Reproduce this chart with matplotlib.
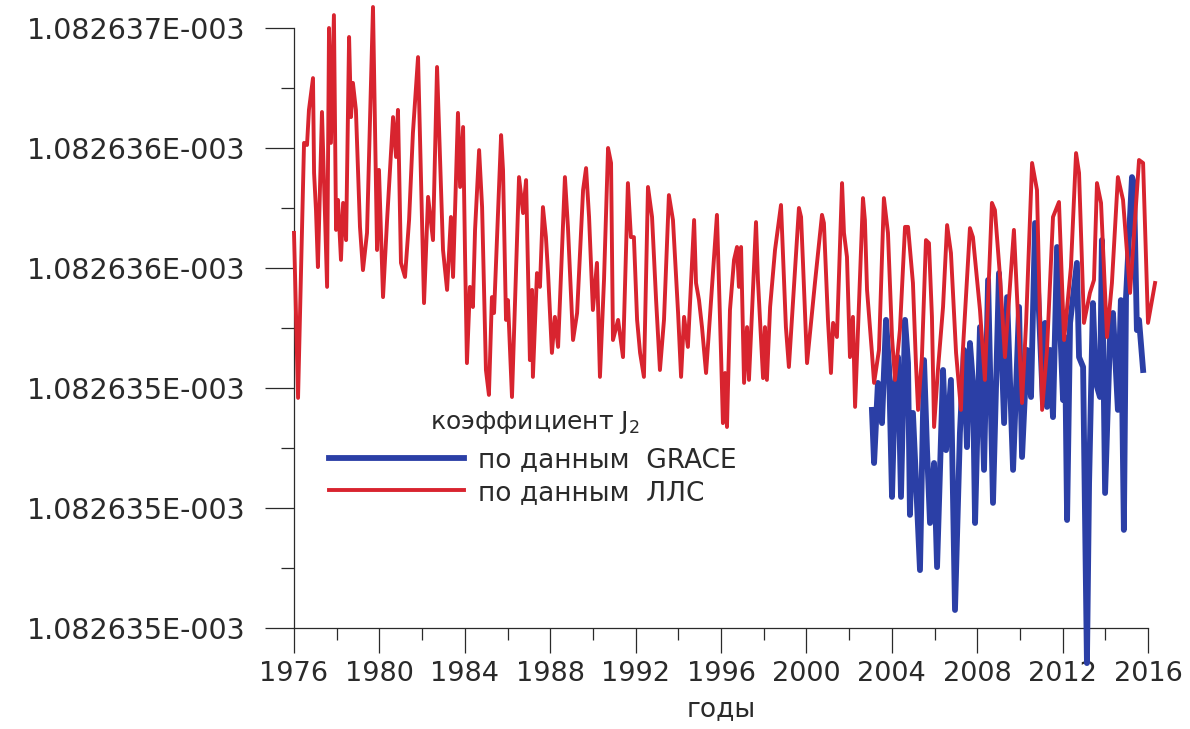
import math
import matplotlib
matplotlib.use("Agg")
import matplotlib.pyplot as plt
from matplotlib.ticker import MultipleLocator, FuncFormatter

# ---- data: J2 expressed as deviation from J2_BASE in units of 1e-10 ----
J2_BASE = 1.0826346e-3
UNIT = 1e-10

llr_years = [
    1976.00, 1976.19, 1976.47, 1976.61, 1976.70, 1976.89, 1976.94, 1977.03, 1977.12, 1977.31,
    1977.55, 1977.64, 1977.73, 1977.87, 1977.97, 1978.06, 1978.20, 1978.30, 1978.44, 1978.58,
    1978.67, 1978.76, 1978.90, 1979.09, 1979.23, 1979.42, 1979.70, 1979.89, 1979.98, 1980.17,
    1980.36, 1980.64, 1980.78, 1980.87, 1981.01, 1981.20, 1981.39, 1981.57, 1981.81, 1982.09,
    1982.28, 1982.51, 1982.70, 1982.98, 1983.17, 1983.35, 1983.45, 1983.68, 1983.78, 1983.92,
    1984.01, 1984.10, 1984.24, 1984.38, 1984.48, 1984.67, 1984.81, 1984.99, 1985.13, 1985.27,
    1985.37, 1985.70, 1985.79, 1985.93, 1986.02, 1986.21, 1986.54, 1986.73, 1986.87, 1987.05,
    1987.15, 1987.19, 1987.38, 1987.52, 1987.66, 1987.80, 1987.90, 1988.08, 1988.22, 1988.37,
    1988.69, 1988.83, 1989.07, 1989.26, 1989.54, 1989.68, 1989.82, 1990.00, 1990.19, 1990.33,
    1990.52, 1990.71, 1990.85, 1990.94, 1991.18, 1991.41, 1991.64, 1991.78, 1991.92, 1992.07,
    1992.21, 1992.39, 1992.58, 1992.77, 1992.96, 1993.14, 1993.33, 1993.56, 1993.75, 1993.99,
    1994.13, 1994.27, 1994.45, 1994.74, 1994.83, 1994.97, 1995.11, 1995.30, 1995.81, 1996.00,
    1996.09, 1996.19, 1996.28, 1996.42, 1996.61, 1996.75, 1996.84, 1996.94, 1997.08, 1997.22,
    1997.31, 1997.64, 1997.73, 1997.97, 1998.06, 1998.15, 1998.30, 1998.53, 1998.81, 1999.04,
    1999.18, 1999.65, 1999.75, 1999.84, 2000.03, 2000.40, 2000.73, 2000.82, 2001.01, 2001.15,
    2001.25, 2001.43, 2001.67, 2001.76, 2001.90, 2002.04, 2002.18, 2002.28, 2002.65, 2002.74,
    2002.84, 2003.07, 2003.17, 2003.40, 2003.63, 2003.82, 2004.01, 2004.15, 2004.38, 2004.62,
    2004.76, 2004.99, 2005.13, 2005.23, 2005.41, 2005.60, 2005.74, 2005.88, 2005.98, 2006.16,
    2006.40, 2006.59, 2006.77, 2007.01, 2007.24, 2007.33, 2007.66, 2007.80, 2008.13, 2008.36,
    2008.69, 2008.83, 2009.07, 2009.30, 2009.72, 2010.10, 2010.29, 2010.57, 2010.80, 2011.04,
    2011.27, 2011.55, 2011.83, 2012.07, 2012.39, 2012.63, 2012.77, 2013.00, 2013.28, 2013.47,
    2013.61, 2013.80, 2014.08, 2014.31, 2014.59, 2014.83, 2015.16, 2015.58, 2015.77, 2016.00,
    2016.33,
]
llr_dJ2 = [
    13.17, 7.67, 16.17, 16.10, 17.27, 18.33, 15.17, 13.93, 12.03, 17.20,
    11.37, 20.00, 16.17, 20.43, 13.27, 14.27, 12.27, 14.17, 12.93, 19.70,
    17.03, 18.17, 17.27, 13.37, 11.93, 13.17, 20.70, 12.60, 15.27, 11.03,
    13.60, 17.03, 15.70, 17.27, 12.17, 11.70, 13.60, 16.50, 19.03, 10.83,
    14.37, 12.93, 18.70, 12.60, 11.27, 13.70, 11.70, 17.17, 14.70, 16.70,
    12.50, 8.83, 11.37, 10.70, 13.27, 15.93, 14.03, 8.60, 7.77, 11.03,
    10.50, 16.43, 15.27, 10.27, 10.93, 7.70, 15.03, 13.83, 14.93, 8.93,
    11.27, 8.37, 11.83, 11.37, 14.03, 13.03, 11.83, 9.17, 10.37, 9.37,
    15.03, 13.37, 9.60, 10.50, 14.60, 15.33, 13.70, 10.60, 12.17, 8.37,
    11.60, 16.00, 15.50, 9.60, 10.27, 9.03, 14.83, 13.03, 13.03, 10.27,
    9.17, 8.37, 14.70, 13.70, 10.93, 8.60, 10.27, 14.43, 13.60, 10.50,
    8.37, 10.37, 9.37, 13.60, 11.50, 10.93, 10.03, 8.50, 13.77, 9.17,
    6.83, 8.50, 6.70, 10.60, 12.27, 12.70, 11.37, 12.70, 8.17, 10.03,
    8.27, 13.53, 11.60, 8.33, 10.03, 8.27, 10.70, 12.60, 14.10, 10.03,
    8.70, 14.00, 13.70, 12.17, 8.83, 11.50, 13.77, 13.50, 10.27, 8.50,
    10.17, 9.70, 14.83, 13.17, 12.37, 9.03, 10.37, 7.37, 14.33, 13.60,
    11.27, 9.17, 8.17, 9.27, 14.33, 13.17, 9.70, 8.27, 9.93, 13.37,
    13.37, 11.50, 8.83, 7.27, 9.03, 12.93, 12.83, 10.37, 6.70, 8.60,
    10.70, 13.43, 12.50, 9.17, 7.27, 9.27, 13.33, 13.03, 10.60, 8.27,
    14.17, 13.93, 11.70, 9.03, 13.27, 7.50, 10.17, 15.50, 14.60, 7.27,
    9.27, 13.70, 14.20, 9.60, 12.03, 15.83, 15.17, 10.17, 11.17, 11.60,
    14.83, 14.17, 9.70, 11.50, 15.03, 14.27, 11.17, 15.60, 15.50, 10.17,
    11.50,
]

grace_years = [
    2003.07, 2003.17, 2003.35, 2003.54, 2003.73, 2003.87, 2004.01, 2004.15, 2004.29, 2004.43,
    2004.62, 2004.76, 2004.85, 2004.99, 2005.32, 2005.51, 2005.65, 2005.79, 2005.98, 2006.12,
    2006.40, 2006.54, 2006.77, 2006.96, 2007.19, 2007.38, 2007.52, 2007.66, 2007.80, 2007.90,
    2008.13, 2008.32, 2008.51, 2008.74, 2009.02, 2009.26, 2009.40, 2009.68, 2009.96, 2010.10,
    2010.33, 2010.52, 2010.71, 2011.08, 2011.18, 2011.27, 2011.41, 2011.55, 2011.74, 2012.02,
    2012.11, 2012.21, 2012.35, 2012.67, 2012.77, 2012.96, 2013.14, 2013.24, 2013.42, 2013.56,
    2013.75, 2013.84, 2013.99, 2014.22, 2014.36, 2014.59, 2014.73, 2014.87, 2014.97, 2015.25,
    2015.34, 2015.48, 2015.58, 2015.77,
]
grace_dJ2 = [
    7.27, 5.50, 8.17, 6.83, 10.27, 8.70, 4.37, 8.17, 9.03, 4.37,
    10.27, 8.83, 3.77, 7.17, 1.93, 8.93, 5.93, 3.50, 5.50, 2.03,
    8.60, 5.93, 8.27, 0.60, 6.50, 9.27, 6.03, 9.50, 8.17, 3.50,
    10.03, 5.27, 11.60, 4.17, 11.83, 6.83, 11.03, 5.27, 10.70, 5.70,
    9.27, 7.70, 13.50, 7.50, 10.17, 7.37, 9.27, 7.03, 12.70, 7.60,
    9.70, 3.60, 10.17, 12.17, 9.03, 8.70, -1.17, 4.83, 10.83, 8.17,
    7.70, 12.93, 4.50, 9.70, 10.50, 7.27, 10.93, 3.27, 11.03, 15.03,
    14.83, 9.93, 10.27, 8.60,
]

x_range = (1976, 2016)
y_range = (0, 20)
legend_title = "коэффициент J$_2$"
label_grace = "по данным  GRACE"
label_llr = "по данным  ЛЛС"
x_label = "годы"

RED = "#d8242f"
BLUE = "#2b3fa6"
INK = "#2a2a2a"

plt.rcParams["font.family"] = ["DejaVu Sans"]

fig = plt.figure(figsize=(11.9, 7.29), dpi=100)
ax = fig.add_axes([294 / 1190, 101 / 729, 854 / 1190, 600 / 729])

ax.plot(grace_years, grace_dJ2, color=BLUE, lw=4.2, clip_on=False, zorder=3,
        label=label_grace, solid_joinstyle="round")
ax.plot(llr_years, llr_dJ2, color=RED, lw=2.8, clip_on=False, zorder=4,
        label=label_llr, solid_joinstyle="round")

ax.set_xlim(*x_range)
ax.set_ylim(*y_range)

for s in ("top", "right"):
    ax.spines[s].set_visible(False)
for s in ("left", "bottom"):
    ax.spines[s].set_color(INK)
    ax.spines[s].set_linewidth(0.9)

ax.xaxis.set_major_locator(MultipleLocator(4))
ax.xaxis.set_minor_locator(MultipleLocator(2))
ax.yaxis.set_major_locator(MultipleLocator(4))
ax.yaxis.set_minor_locator(MultipleLocator(2))


def j2_fmt(u, pos):
    j = J2_BASE + u * UNIT
    e = math.floor(math.log10(abs(j)))
    m = j / 10 ** e
    sign = "-" if e < 0 else "+"
    return f"{m:.6f}E{sign}{abs(e):03d}"


ax.yaxis.set_major_formatter(FuncFormatter(j2_fmt))
ax.xaxis.set_major_formatter(FuncFormatter(lambda v, p: f"{int(round(v))}"))

ax.tick_params(axis="y", which="major", length=21, width=0.9, color=INK,
               labelsize=20.5, labelcolor=INK, pad=14)
ax.tick_params(axis="y", which="minor", length=9.5, width=0.9, color=INK)
ax.tick_params(axis="x", which="major", length=18, width=0.9, color=INK,
               labelsize=19.5, labelcolor=INK, pad=6)
ax.tick_params(axis="x", which="minor", length=8.5, width=0.9, color=INK)

ax.set_xlabel(x_label, fontsize=19, color=INK, labelpad=6)

# legend title as a separate text, legend entries below it
ax.text((430 - 294) / 854, (628 - 422) / 600, legend_title, transform=ax.transAxes,
        ha="left", va="center", fontsize=18, color=INK)
leg = ax.legend(loc="upper left",
                bbox_to_anchor=((329 - 294) / 854, (628 - 447) / 600),
                frameon=False, fontsize=19,
                handlelength=5.1, handletextpad=0.55, labelspacing=0.25,
                borderpad=0, borderaxespad=0)
for t in leg.get_texts():
    t.set_color(INK)

fig.savefig("out.png", dpi=100, facecolor="white")
